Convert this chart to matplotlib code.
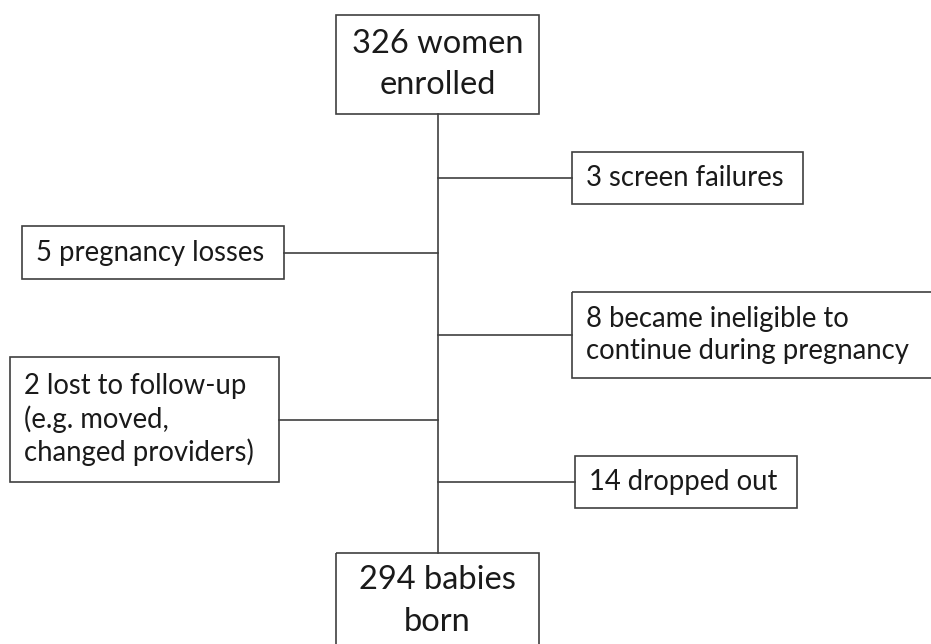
"""
Flussdiagramm: Teilnehmerinnen von Einschluss bis Geburt
"""

import matplotlib.pyplot as plt
from matplotlib.patches import Rectangle

# Texte der Kaesten
start_label = "326 women\nenrolled"
end_label = "294 babies\nborn"
exclusion_labels = [
    "3 screen failures",
    "5 pregnancy losses",
    "8 became ineligible to\ncontinue during pregnancy",
    "2 lost to follow-up\n(e.g. moved,\nchanged providers)",
    "14 dropped out",
]
exclusion_sides = ["right", "left", "right", "left", "right"]

# Layout in Pixel (x0, y0, x1, y1), y nach unten
LINE_COLOR = "#404040"
TEXT_COLOR = "#1a1a1a"
FONT = "Lato"
BIG = 23.5
SMALL = 19.8
spine_x = 437.5
start_box = (336, 15, 539, 114)
end_box = (336, 553, 539, 660)
exclusion_boxes = [
    (572, 152, 803, 204),
    (22, 226, 284, 279),
    (572, 292, 940, 378),
    (10, 357, 279, 482),
    (575, 456, 797, 508),
]

fig = plt.figure(figsize=(9.31, 6.44), dpi=100)
ax = fig.add_axes([0, 0, 1, 1])
ax.set_xlim(0, 931)
ax.set_ylim(644, 0)
ax.axis("off")


def draw_box(box, text, size, align, spacing, text_y=None):
    x0, y0, x1, y1 = box
    ax.add_patch(Rectangle((x0, y0), x1 - x0, y1 - y0, fill=False,
                           edgecolor=LINE_COLOR, linewidth=1.2, clip_on=False))
    if align == "center":
        tx = (x0 + x1) / 2
    else:
        tx = x0 + 14
    if text_y is None:
        text_y = (y0 + y1) / 2
    ax.text(tx, text_y, text, ha=align, va="center", fontsize=size,
            family=FONT, color=TEXT_COLOR, linespacing=spacing, multialignment=align)


# Hauptlinie
ax.plot([spine_x, spine_x], [start_box[3], end_box[1]], color=LINE_COLOR, lw=1.2)

draw_box(start_box, start_label, BIG, "center", 1.47)
draw_box(end_box, end_label, BIG, "center", 1.47, text_y=end_box[1] + 48)

for label, side, box in zip(exclusion_labels, exclusion_sides, exclusion_boxes):
    draw_box(box, label, SMALL, "left", 1.26)
    y = (box[1] + box[3]) / 2
    if side == "right":
        ax.plot([spine_x, box[0]], [y, y], color=LINE_COLOR, lw=1.2)
    else:
        ax.plot([box[2], spine_x], [y, y], color=LINE_COLOR, lw=1.2)

plt.savefig("out.png", dpi=100)
